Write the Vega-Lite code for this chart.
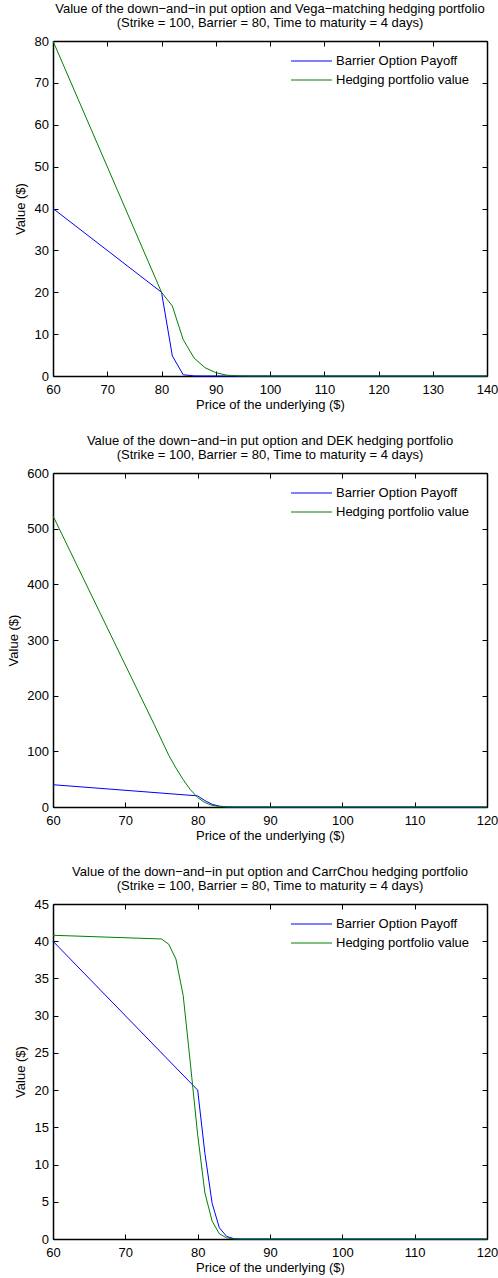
{
  "$schema": "https://vega.github.io/schema/vega-lite/v6.json",
  "padding": {"left": 7, "top": 3, "right": 8, "bottom": 1},
  "spacing": 24,
  "datasets": {
    "vega": [
      {"series": "Barrier Option Payoff", "price": 60, "value": 40},
      {"series": "Barrier Option Payoff", "price": 80, "value": 20},
      {"series": "Barrier Option Payoff", "price": 82, "value": 4.8},
      {"series": "Barrier Option Payoff", "price": 84, "value": 0.3},
      {"series": "Barrier Option Payoff", "price": 86, "value": 0.02},
      {"series": "Barrier Option Payoff", "price": 88, "value": 0},
      {"series": "Barrier Option Payoff", "price": 140, "value": 0},
      {"series": "Hedging portfolio value", "price": 60, "value": 80},
      {"series": "Hedging portfolio value", "price": 80, "value": 20},
      {"series": "Hedging portfolio value", "price": 82, "value": 16.7},
      {"series": "Hedging portfolio value", "price": 84, "value": 8.7},
      {"series": "Hedging portfolio value", "price": 86, "value": 4.3},
      {"series": "Hedging portfolio value", "price": 88, "value": 2.0},
      {"series": "Hedging portfolio value", "price": 90, "value": 0.8},
      {"series": "Hedging portfolio value", "price": 92, "value": 0.2},
      {"series": "Hedging portfolio value", "price": 94, "value": 0.05},
      {"series": "Hedging portfolio value", "price": 96, "value": 0},
      {"series": "Hedging portfolio value", "price": 140, "value": 0}
    ],
    "dek": [
      {"series": "Barrier Option Payoff", "price": 60, "value": 40},
      {"series": "Barrier Option Payoff", "price": 80, "value": 20},
      {"series": "Barrier Option Payoff", "price": 81, "value": 11.5},
      {"series": "Barrier Option Payoff", "price": 82, "value": 4.8},
      {"series": "Barrier Option Payoff", "price": 83, "value": 1.5},
      {"series": "Barrier Option Payoff", "price": 84, "value": 0.35},
      {"series": "Barrier Option Payoff", "price": 85, "value": 0.05},
      {"series": "Barrier Option Payoff", "price": 86, "value": 0},
      {"series": "Barrier Option Payoff", "price": 120, "value": 0},
      {"series": "Hedging portfolio value", "price": 60, "value": 523},
      {"series": "Hedging portfolio value", "price": 70, "value": 255},
      {"series": "Hedging portfolio value", "price": 74, "value": 148},
      {"series": "Hedging portfolio value", "price": 76, "value": 93},
      {"series": "Hedging portfolio value", "price": 77, "value": 70},
      {"series": "Hedging portfolio value", "price": 78, "value": 49},
      {"series": "Hedging portfolio value", "price": 79, "value": 31},
      {"series": "Hedging portfolio value", "price": 80, "value": 17},
      {"series": "Hedging portfolio value", "price": 81, "value": 8},
      {"series": "Hedging portfolio value", "price": 82, "value": 3},
      {"series": "Hedging portfolio value", "price": 83, "value": 0.8},
      {"series": "Hedging portfolio value", "price": 84, "value": 0.15},
      {"series": "Hedging portfolio value", "price": 85, "value": 0},
      {"series": "Hedging portfolio value", "price": 120, "value": 0}
    ],
    "carrchou": [
      {"series": "Barrier Option Payoff", "price": 60, "value": 40},
      {"series": "Barrier Option Payoff", "price": 80, "value": 20},
      {"series": "Barrier Option Payoff", "price": 81, "value": 11.5},
      {"series": "Barrier Option Payoff", "price": 82, "value": 4.8},
      {"series": "Barrier Option Payoff", "price": 83, "value": 1.5},
      {"series": "Barrier Option Payoff", "price": 84, "value": 0.35},
      {"series": "Barrier Option Payoff", "price": 85, "value": 0.05},
      {"series": "Barrier Option Payoff", "price": 86, "value": 0},
      {"series": "Barrier Option Payoff", "price": 120, "value": 0},
      {"series": "Hedging portfolio value", "price": 60, "value": 40.8},
      {"series": "Hedging portfolio value", "price": 75, "value": 40.3},
      {"series": "Hedging portfolio value", "price": 76, "value": 39.6},
      {"series": "Hedging portfolio value", "price": 77, "value": 37.6},
      {"series": "Hedging portfolio value", "price": 78, "value": 32.7},
      {"series": "Hedging portfolio value", "price": 79, "value": 23.5},
      {"series": "Hedging portfolio value", "price": 80, "value": 14},
      {"series": "Hedging portfolio value", "price": 81, "value": 6.2},
      {"series": "Hedging portfolio value", "price": 82, "value": 2.4},
      {"series": "Hedging portfolio value", "price": 83, "value": 0.7},
      {"series": "Hedging portfolio value", "price": 84, "value": 0.15},
      {"series": "Hedging portfolio value", "price": 85, "value": 0.02},
      {"series": "Hedging portfolio value", "price": 86, "value": 0},
      {"series": "Hedging portfolio value", "price": 120, "value": 0}
    ]
  },
  "vconcat": [
    {
      "data": {"name": "vega"},
      "title": {"text": ["Value of the down−and−in put option and Vega−matching hedging portfolio", "(Strike = 100, Barrier = 80, Time to maturity = 4 days)"], "frame": "group", "anchor": "middle"},
      "width": 434,
      "height": 335,
      "layer": [
        {
          "mark": {"type": "line", "strokeWidth": 1},
          "encoding": {
            "x": {"field": "price", "type": "quantitative", "scale": {"domain": [60, 140], "nice": false, "zero": false},
                  "axis": {"orient": "bottom", "values": [60, 70, 80, 90, 100, 110, 120, 130, 140], "title": "Price of the underlying ($)"}},
            "y": {"field": "value", "type": "quantitative", "scale": {"domain": [0, 80], "nice": false},
                  "axis": {"orient": "left", "values": [0, 10, 20, 30, 40, 50, 60, 70, 80], "title": "Value ($)", "titleX": -33}},
            "color": {"field": "series", "type": "nominal",
                      "scale": {"domain": ["Barrier Option Payoff", "Hedging portfolio value"], "range": ["#0000ff", "#008000"]},
                      "legend": {"orient": "none", "legendX": 252, "legendY": 13.5}}
          }
        },
        {
          "mark": {"type": "line", "strokeWidth": 1, "opacity": 0},
          "encoding": {
            "x": {"field": "price", "type": "quantitative", "axis": {"orient": "top", "values": [60, 70, 80, 90, 100, 110, 120, 130, 140], "labels": false, "title": null}},
            "y": {"field": "value", "type": "quantitative", "axis": {"orient": "right", "values": [0, 10, 20, 30, 40, 50, 60, 70, 80], "labels": false, "title": null}},
            "detail": {"field": "series"}
          }
        }
      ],
      "resolve": {"axis": {"x": "independent", "y": "independent"}}
    },
    {
      "data": {"name": "dek"},
      "title": {"text": ["Value of the down−and−in put option and DEK hedging portfolio", "(Strike = 100, Barrier = 80, Time to maturity = 4 days)"], "frame": "group", "anchor": "middle"},
      "width": 434,
      "height": 334,
      "layer": [
        {
          "mark": {"type": "line", "strokeWidth": 1},
          "encoding": {
            "x": {"field": "price", "type": "quantitative", "scale": {"domain": [60, 120], "nice": false, "zero": false},
                  "axis": {"orient": "bottom", "values": [60, 70, 80, 90, 100, 110, 120], "title": "Price of the underlying ($)"}},
            "y": {"field": "value", "type": "quantitative", "scale": {"domain": [0, 600], "nice": false},
                  "axis": {"orient": "left", "values": [0, 100, 200, 300, 400, 500, 600], "title": "Value ($)", "titleX": -40, "titleY": 167}},
            "color": {"field": "series", "type": "nominal",
                      "scale": {"domain": ["Barrier Option Payoff", "Hedging portfolio value"], "range": ["#0000ff", "#008000"]},
                      "legend": {"orient": "none", "legendX": 252, "legendY": 13.5}}
          }
        },
        {
          "mark": {"type": "line", "strokeWidth": 1, "opacity": 0},
          "encoding": {
            "x": {"field": "price", "type": "quantitative", "axis": {"orient": "top", "values": [60, 70, 80, 90, 100, 110, 120], "labels": false, "title": null}},
            "y": {"field": "value", "type": "quantitative", "axis": {"orient": "right", "values": [0, 100, 200, 300, 400, 500, 600], "labels": false, "title": null}},
            "detail": {"field": "series"}
          }
        }
      ],
      "resolve": {"axis": {"x": "independent", "y": "independent"}}
    },
    {
      "data": {"name": "carrchou"},
      "title": {"text": ["Value of the down−and−in put option and CarrChou hedging portfolio", "(Strike = 100, Barrier = 80, Time to maturity = 4 days)"], "frame": "group", "anchor": "middle"},
      "width": 434,
      "height": 335,
      "layer": [
        {
          "mark": {"type": "line", "strokeWidth": 1},
          "encoding": {
            "x": {"field": "price", "type": "quantitative", "scale": {"domain": [60, 120], "nice": false, "zero": false},
                  "axis": {"orient": "bottom", "values": [60, 70, 80, 90, 100, 110, 120], "title": "Price of the underlying ($)"}},
            "y": {"field": "value", "type": "quantitative", "scale": {"domain": [0, 45], "nice": false},
                  "axis": {"orient": "left", "values": [0, 5, 10, 15, 20, 25, 30, 35, 40, 45], "title": "Value ($)", "titleX": -33}},
            "color": {"field": "series", "type": "nominal",
                      "scale": {"domain": ["Barrier Option Payoff", "Hedging portfolio value"], "range": ["#0000ff", "#008000"]},
                      "legend": {"orient": "none", "legendX": 252, "legendY": 13.5}}
          }
        },
        {
          "mark": {"type": "line", "strokeWidth": 1, "opacity": 0},
          "encoding": {
            "x": {"field": "price", "type": "quantitative", "axis": {"orient": "top", "values": [60, 70, 80, 90, 100, 110, 120], "labels": false, "title": null}},
            "y": {"field": "value", "type": "quantitative", "axis": {"orient": "right", "values": [0, 5, 10, 15, 20, 25, 30, 35, 40, 45], "labels": false, "title": null}},
            "detail": {"field": "series"}
          }
        }
      ],
      "resolve": {"axis": {"x": "independent", "y": "independent"}}
    }
  ],
  "resolve": {"scale": {"color": "independent"}, "legend": {"color": "independent"}},
  "config": {
    "background": "white",
    "font": "Liberation Sans",
    "view": {"stroke": null},
    "axis": {
      "grid": false,
      "domainColor": "black",
      "domainWidth": 1.5,
      "tickColor": "black",
      "tickWidth": 1,
      "tickSize": -5,
      "labelColor": "black",
      "labelFont": "Liberation Sans",
      "labelFontSize": 13,
      "labelFlush": false,
      "labelOverlap": false,
      "titleColor": "black",
      "titleFont": "Liberation Sans",
      "titleFontSize": 13,
      "titleFontWeight": "normal"
    },
    "axisX": {"labelPadding": 12},
    "axisY": {"labelPadding": 9.5},
    "axisLeft": {"titleBaseline": "middle", "titleY": 167.5, "titleAngle": -90},
    "axisBottom": {"titleBaseline": "middle", "titleY": 28, "titleX": 217},
    "title": {
      "font": "Liberation Sans",
      "fontSize": 13,
      "fontWeight": "normal",
      "color": "black",
      "lineHeight": 14,
      "offset": 5
    },
    "legend": {
      "title": null,
      "labelFont": "Liberation Sans",
      "labelFontSize": 13,
      "labelColor": "black",
      "symbolType": "M-4,0H4",
      "symbolSize": 105,
      "symbolStrokeWidth": 1,
      "labelOffset": 18,
      "rowPadding": 5,
      "padding": 0
    }
  }
}
